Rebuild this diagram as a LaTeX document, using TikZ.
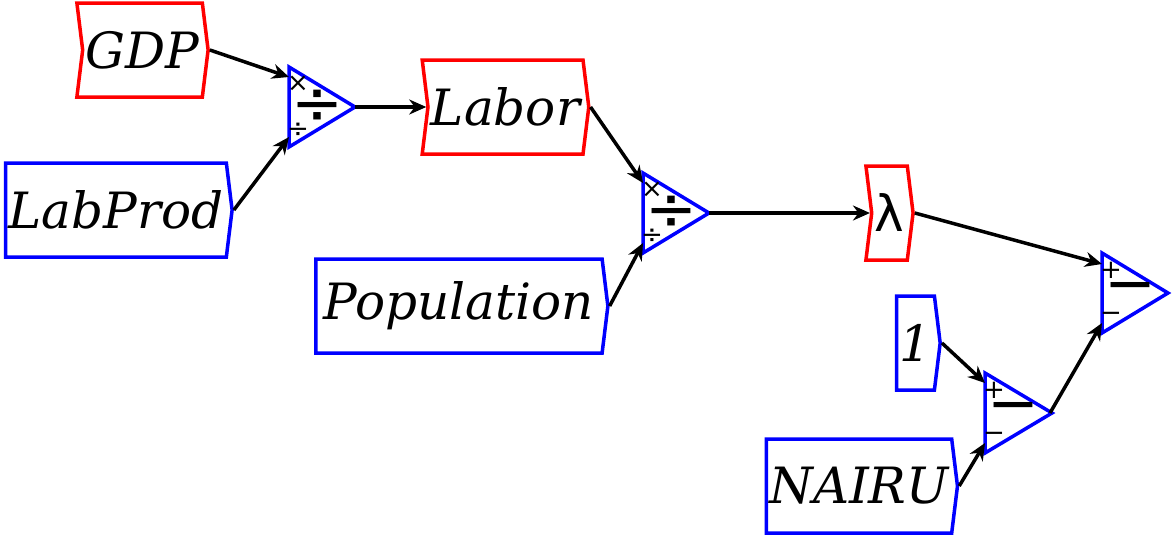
\documentclass[tikz,border=0pt]{standalone}
\usepackage{fontspec}
\setmainfont{DejaVu Serif}
\newfontfamily\opfont{DejaVu Sans}
\usetikzlibrary{arrows.meta, shapes.symbols}

\tikzset{
  varbox/.style={draw, line width=3.5pt, shape=signal, signal to=east, signal pointer angle=166,
    minimum height=94, inner sep=3pt, font=\fontsize{50}{60}\selectfont\itshape},
  calcbox/.style={varbox, draw=red, signal from=west},
  inbox/.style={varbox, draw=blue},
  optri/.style={draw=blue, line width=3.5pt, line join=miter},
  link/.style={-{Stealth[length=17pt,width=15pt]}, line width=3.5pt},
  opsmall/.style={font=\opfont\fontsize{26}{30}\selectfont, inner sep=0pt},
  opbig/.style={font=\opfont\fontsize{62}{70}\selectfont, inner sep=0pt}
}

\begin{document}
\begin{tikzpicture}[x=1pt,y=-1pt]
  \useasboundingbox (0,0) rectangle (1173,538);

  % Variables
  \node[calcbox, minimum width=123] (gdp) at (142.5,50) {GDP};
  \node[inbox, minimum width=224] (labprod) at (116,210) {LabProd};
  \node[calcbox, minimum width=161] (labor) at (505.5,107) {Labor};
  \node[inbox, minimum width=292] (population) at (459,306) {Population};
  \node[calcbox, minimum width=47, font=\opfont\fontsize{50}{60}\selectfont] (lambda) at (889.5,213) {λ};
  \node[inbox, minimum width=39] (one) at (915.5,343) {1};
  \node[inbox, minimum width=188] (nairu) at (859,486) {NAIRU};

  % Division Labor = GDP / LabProd
  \draw[optri] (289,67) -- (355,107) -- (289,147) -- cycle;
  \coordinate (div1a) at (289,77);
  \coordinate (div1b) at (289,137);
  \coordinate (div1o) at (355,107);
  \node[opsmall] (div1x) at (298,84) {×};
  \node[opsmall] (div1d) at (298,130) {÷};
  \node[opbig] (div1) at (317,107) {÷};

  % Division lambda = Labor / Population
  \draw[optri] (643,173) -- (709,213) -- (643,253) -- cycle;
  \coordinate (div2a) at (643,183);
  \coordinate (div2b) at (643,243);
  \coordinate (div2o) at (709,213);
  \node[opsmall] (div2x) at (652,190) {×};
  \node[opsmall] (div2d) at (652,236) {÷};
  \node[opbig] (div2) at (671,213) {÷};

  % Subtraction 1 - NAIRU
  \draw[optri] (985,373) -- (1052,413) -- (985,453) -- cycle;
  \coordinate (sub1a) at (985,383);
  \coordinate (sub1b) at (985,443);
  \coordinate (sub1o) at (1050,413);
  \node[opsmall] (sub1p) at (994,390) {+};
  \node[opsmall] (sub1m) at (994,437) {−};
  \node[opbig] (sub1) at (1013,413) {−};

  % Subtraction lambda - (1 - NAIRU)
  \draw[optri] (1102,253) -- (1168,293) -- (1102,333) -- cycle;
  \coordinate (sub2a) at (1102,264);
  \coordinate (sub2b) at (1102,323);
  \node[opsmall] (sub2p) at (1111,270) {+};
  \node[opsmall] (sub2m) at (1111,317) {−};
  \node[opbig] (sub2) at (1130,293) {−};

  % Links
  \draw[link] (gdp.east) -- (div1a);
  \draw[link] (labprod.east) -- (div1b);
  \draw[link] (div1o) -- (labor.west);
  \draw[link] (labor.east) -- (div2a);
  \draw[link] (population.east) -- (div2b);
  \draw[link] (div2o) -- (lambda.west);
  \draw[link] (lambda.east) -- (sub2a);
  \draw[link] (one.east) -- (sub1a);
  \draw[link] (nairu.east) -- (sub1b);
  \draw[link] (sub1o) -- (sub2b);
\end{tikzpicture}
\end{document}
